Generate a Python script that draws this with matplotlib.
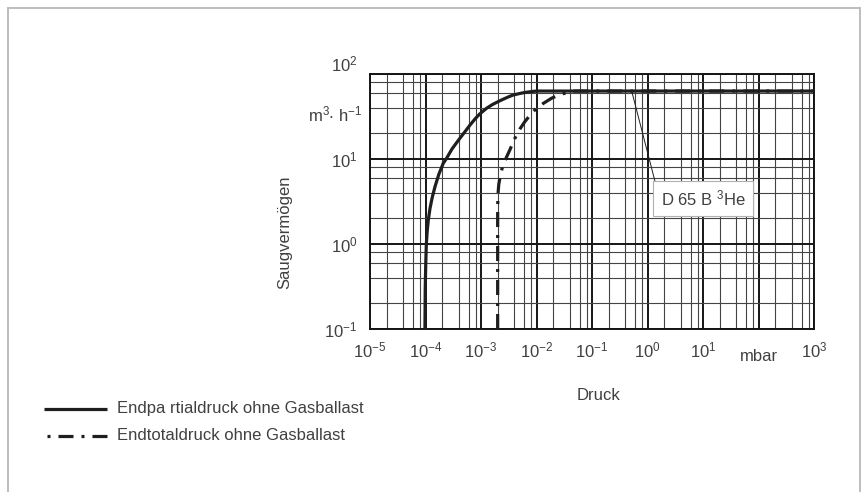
import numpy as np
import matplotlib
matplotlib.use("Agg")
import matplotlib.pyplot as plt
from matplotlib.lines import Line2D
from matplotlib.ticker import FixedLocator, NullFormatter

plt.rcParams['font.family'] = ['Liberation Sans', 'DejaVu Sans']
plt.rcParams['mathtext.fontset'] = 'custom'
plt.rcParams['mathtext.rm'] = 'Liberation Sans'
plt.rcParams['mathtext.it'] = 'Liberation Sans'
plt.rcParams['mathtext.default'] = 'regular'

# ---- data ----
solid_logp = [-4.01, -4.005, -3.995, -3.985, -3.97, -3.95, -3.92, -3.88, -3.83,
              -3.76, -3.68, -3.62, -3.52, -3.39, -3.3, -3.2, -3.1, -3.02, -2.9,
              -2.8, -2.7, -2.6, -2.5, -2.42, -2.3, -2.2, -2.1, -2.0, 3.0]
solid_S = [0.1, 0.3, 0.6, 1.0, 1.4, 1.9, 2.6, 3.5, 4.7,
           6.6, 8.9, 10.2, 13.2, 17.2, 20.5, 25, 30, 34, 39.5,
           43.5, 47, 50.5, 54, 56.6, 59, 60.8, 62, 63, 63]

dashdot_logp = [-2.70, -2.70, -2.695, -2.68, -2.65, -2.61, -2.55, -2.48, -2.39,
                -2.30, -2.21, -2.12, -2.03, -1.88, -1.73, -1.60, -1.47, -1.31, 3.0]
dashdot_S = [0.1, 2.5, 3.8, 5.0, 6.5, 8.2, 10.2, 12.8, 17.5,
             22.5, 27.5, 32.5, 37.7, 45, 51.8, 56.5, 60, 63, 63]

x_tick_exp = [-5, -4, -3, -2, -1, 0, 1, 3]
y_tick_exp = [-1, 0, 1, 2]
legend_labels = ["Endpa rtialdruck ohne Gasballast", "Endtotaldruck ohne Gasballast"]
annotation_text = r"D 65 B $^{3}$He"

W, H = 861, 492
fig = plt.figure(figsize=(W / 100, H / 100), dpi=100)
ax = fig.add_axes([370 / W, 1 - 329 / H, 444 / W, 255 / H])
ax.set_xscale('log')
ax.set_yscale('log')
ax.set_xlim(1e-5, 1e3)
ax.set_ylim(1e-1, 1e2)

txt_color = '#404040'
fs = 12

# grid
major_x = [10.0 ** e for e in range(-5, 4)]
minor_x = [m * 10.0 ** e for e in range(-5, 3) for m in (2, 4, 6, 8)]
major_y = [10.0 ** e for e in range(-1, 3)]
minor_y = [m * 10.0 ** e for e in range(-1, 2) for m in (2, 4, 6, 8)]
for v in minor_x:
    ax.axvline(v, color='#444444', lw=0.8, zorder=1)
for v in major_x:
    ax.axvline(v, color='#151515', lw=1.4, zorder=1)
for v in minor_y:
    ax.axhline(v, color='#444444', lw=0.8, zorder=1)
for v in major_y:
    ax.axhline(v, color='#151515', lw=1.4, zorder=1)

for s in ax.spines.values():
    s.set_linewidth(1.4)
    s.set_color('#151515')

# curves
ax.plot(10.0 ** np.array(solid_logp), solid_S, color='#1e1e1e', lw=2.3,
        solid_capstyle='butt', solid_joinstyle='round', zorder=3)
ax.plot(10.0 ** np.array(dashdot_logp), dashdot_S, color='#1e1e1e', lw=2.3,
        dashes=[4.7, 2.5, 0.94, 2.5], zorder=3)

# ticks
ax.xaxis.set_major_locator(FixedLocator([10.0 ** e for e in x_tick_exp]))
ax.set_xticklabels([r'$10^{%d}$' % e for e in x_tick_exp])
ax.yaxis.set_major_locator(FixedLocator([10.0 ** e for e in y_tick_exp]))
ax.set_yticklabels([r'$10^{%d}$' % e for e in y_tick_exp])
ax.xaxis.set_minor_locator(FixedLocator([]))
ax.yaxis.set_minor_locator(FixedLocator([]))
ax.xaxis.set_minor_formatter(NullFormatter())
ax.yaxis.set_minor_formatter(NullFormatter())
ax.tick_params(axis='both', length=0, labelsize=fs, labelcolor=txt_color)
ax.tick_params(axis='x', pad=8)
ax.tick_params(axis='y', pad=9)
for lbl in ax.get_yticklabels():
    if lbl.get_text() == r'$10^{2}$':
        lbl.set_va('bottom')

# units
ax.text(1e2, -0.08, 'mbar', transform=ax.get_xaxis_transform(), ha='center',
        va='top', fontsize=fs, color=txt_color)
ax.text(-0.018, 10 ** 1.52, r'm$^{3}$$\cdot$ h$^{-1}$', transform=ax.get_yaxis_transform(),
        ha='right', va='center', fontsize=fs, color=txt_color)

# axis titles
fig.text(598 / W, 1 - 395 / H, 'Druck', ha='center', va='center', fontsize=fs, color=txt_color)
fig.text(285 / W, 1 - 232 / H, 'Saugvermögen', ha='center', va='center', rotation=90,
         fontsize=fs, color=txt_color)

# annotation
ax.plot([10 ** -0.285, 10 ** 0.213], [63, 3.47], color='#1e1e1e', lw=0.7, zorder=4)
ax.text(10 ** 0.24, 10 ** 0.53, annotation_text, ha='left', va='center', fontsize=fs,
        color=txt_color, zorder=5,
        bbox=dict(boxstyle='square,pad=0.45', fc='white', ec='#b0b0b0', lw=0.8))

# legend (figure level)
def fx(px):
    return px / W

def fy(py):
    return 1 - py / H

fig.add_artist(Line2D([fx(44), fx(107)], [fy(409), fy(409)], color='#1e1e1e', lw=2.3,
                      solid_capstyle='butt'))
fig.add_artist(Line2D([fx(47), fx(107)], [fy(436), fy(436)], color='#1e1e1e', lw=2.3,
                      dashes=[0.94, 2.5, 4.7, 2.5], dash_capstyle='butt'))
fig.text(fx(117), fy(409), legend_labels[0], ha='left', va='center', fontsize=fs, color=txt_color)
fig.text(fx(117), fy(436), legend_labels[1], ha='left', va='center', fontsize=fs, color=txt_color)

# outer frame
frame_c = '#bdbdbd'
fig.add_artist(Line2D([fx(8), fx(8)], [fy(8), 0], color=frame_c, lw=1.4))
fig.add_artist(Line2D([fx(8), fx(860)], [fy(8), fy(8)], color=frame_c, lw=1.4))
fig.add_artist(Line2D([fx(860), fx(860)], [fy(8), 0], color=frame_c, lw=1.4))

fig.savefig('out.png', dpi=100, facecolor='white')
